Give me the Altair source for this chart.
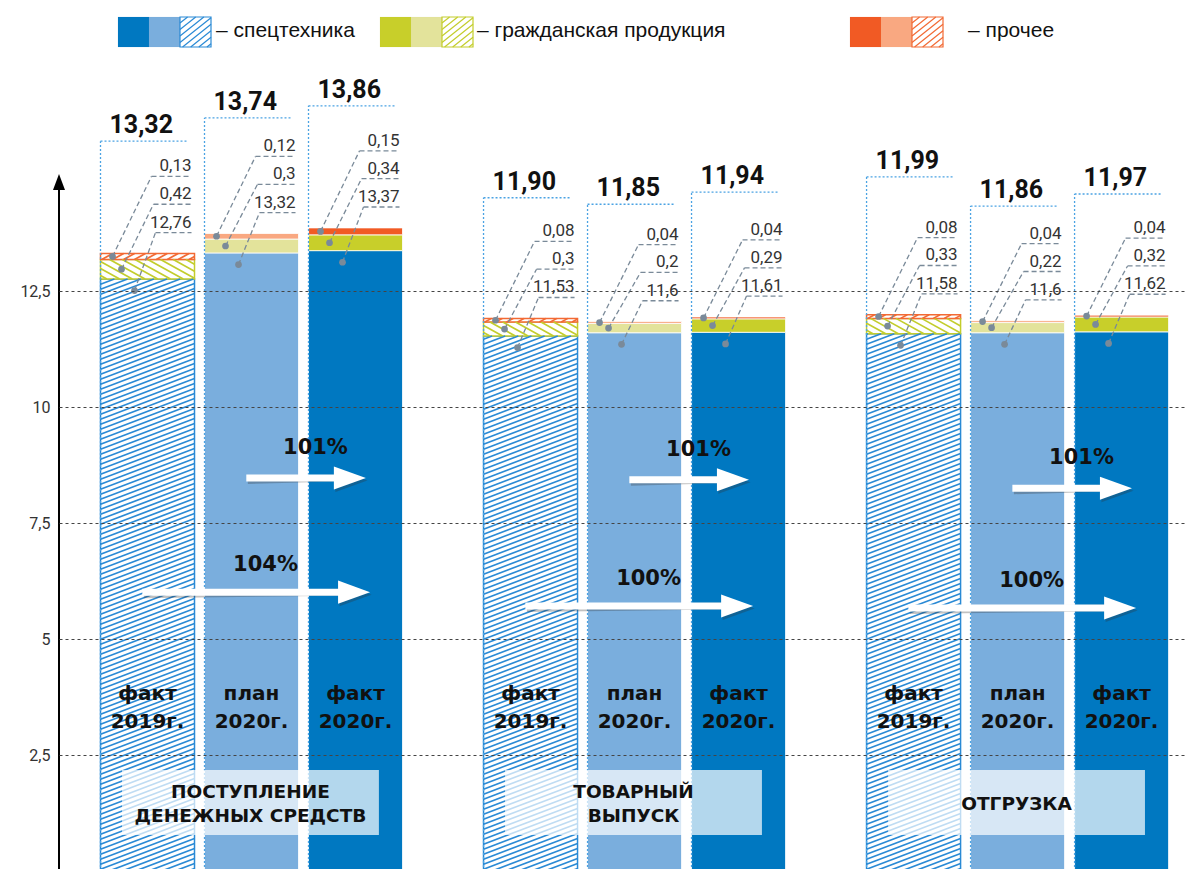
import altair as alt
import pandas as pd

# ---------------- data ----------------
group_names = [["ПОСТУПЛЕНИЕ", "ДЕНЕЖНЫХ СРЕДСТВ"], ["ТОВАРНЫЙ", "ВЫПУСК"], ["ОТГРУЗКА"]]
bar_line1 = ["факт", "план", "факт"]
bar_line2 = ["2019г.", "2020г.", "2020г."]
spec = [[12.76, 13.32, 13.37], [11.53, 11.6, 11.61], [11.58, 11.6, 11.62]]
civil = [[0.42, 0.3, 0.34], [0.3, 0.2, 0.29], [0.33, 0.22, 0.32]]
other = [[0.13, 0.12, 0.15], [0.08, 0.04, 0.04], [0.08, 0.04, 0.04]]
totals = [["13,32", "13,74", "13,86"], ["11,90", "11,85", "11,94"], ["11,99", "11,86", "11,97"]]
pct_vs_plan = ["101%", "101%", "101%"]
pct_vs_prev = ["104%", "100%", "100%"]
legend_labels = ["– спецтехника", "– гражданская продукция", "– прочее"]
y_ticks = [2.5, 5, 7.5, 10, 12.5]

# ---------------- layout / style ----------------
PXX, PXY = 104.0, 46.4          # px per x unit / y unit
W, H = 1127, 863
XMAX, YMAX = W / PXX, H / PXY
label_top = [[15.73, 16.23, 16.49], [14.51, 14.37, 14.63], [14.96, 14.33, 14.59]]
arrow_plan_y = [8.47, 8.43, 8.25]
arrow_prev_y = [6.01, 5.71, 5.67]

# colours: [hatched(2019), plan 2020, fact 2020]
COLS = {
    0: ["#2A8AD5", "#7AAEDD", "#0078C1"],   # спецтехника
    1: ["#C3CD2C", "#E3E39B", "#C8CF2A"],   # гражданская
    2: ["#F26A34", "#F9A881", "#F15A24"],   # прочее
}
LEADER = "#7A8A99"
OUTLINE = "#4BA3E3"
BOLD_FONT = "DejaVu Sans"
LEG_FONT = "Liberation Sans"
NUM_FONT = "Roboto"

HW = 47 / PXX  # half bar width


def cx(g, b):
    return 1.851 + g * 3.683 + (b - 1)


def hatch_lines(x0, x1, u0, u1, slope, step, rising):
    w = x1 - x0
    h = u1 - u0
    out = []
    if rising:
        c = -slope * w + step / 2
        while c < h:
            xa = max(0.0, -c / slope)
            xb = min(w, (h - c) / slope)
            if xb > xa:
                out.append((x0 + xa, u0 + c + slope * xa, x0 + xb, u0 + c + slope * xb))
            c += step
    else:
        c = step / 2
        while c < h + slope * w:
            xa = max(0.0, (c - h) / slope)
            xb = min(w, c / slope)
            if xb > xa:
                out.append((x0 + xa, u0 + c - slope * xa, x0 + xb, u0 + c - slope * xb))
            c += step
    return out


HATCH = {0: (0.38, 5.0, True), 1: (0.55, 7.0, False), 2: (0.55, 6.0, True)}

# ---------------- build tables ----------------
rects, hatch, outl, leader, dots, small, tot, bl = [], [], [], [], [], [], [], []
for g in range(3):
    for b in range(3):
        s, c, o = spec[g][b], civil[g][b], other[g][b]
        L, R = cx(g, b) - HW, cx(g, b) + HW
        segs = [(0, s), (s, s + c), (s + c, s + c + o)]
        for k, (y0, y1) in enumerate(segs):
            col = COLS[k][b]
            if b == 0:
                rects.append(dict(x=L, x2=R, y=y0, y2=y1, fill="white", stroke=col, sw=1.5))
                sl, st, ri = HATCH[k]
                for (xa, ua, xb, ub) in hatch_lines(L * PXX, R * PXX, y0 * PXY, y1 * PXY, sl, st, ri):
                    hatch.append(dict(x=xa / PXX, y=ua / PXY, x2=xb / PXX, y2=ub / PXY, c=col))
            else:
                rects.append(dict(x=L, x2=R, y=y0, y2=y1, fill=col, stroke="white", sw=0.8))
        top = s + c + o
        lt = label_top[g][b]
        outl.append(dict(x=L, x2=L, y=0, y2=lt))
        outl.append(dict(x=L, x2=R - 8 / PXX, y=lt, y2=lt))
        tot.append(dict(x=L + 9 / PXX, y=lt + 8 / PXY, t=totals[g][b]))
        rows = [
            (other[g][b], 1.66, 51, 12, s + c + o / 2),
            (civil[g][b], 1.06, 53, 21, s + c / 2),
            (spec[g][b], 0.45, 55, 34, s - 0.25),
        ]
        for (v, off, hx, dx, dy) in rows:
            ul = top + off
            hx0 = L + hx / PXX
            hx1 = R - 3 / PXX
            dxp = L + dx / PXX
            leader.append(dict(x=hx0, x2=hx1, y=ul, y2=ul))
            leader.append(dict(x=dxp, x2=hx0, y=dy, y2=ul))
            dots.append(dict(x=dxp, y=dy))
            small.append(dict(x=hx1, y=ul + 5 / PXY, t=f"{v:g}".replace(".", ",")))
        bl.append(dict(x=cx(g, b), y1=(871 - 694) / PXY, y2=(871 - 722) / PXY,
                       t1=bar_line1[b], t2=bar_line2[b]))

boxes, boxtxt = [], []
for g in range(3):
    c0 = cx(g, 1) - 0.01
    boxes.append(dict(x=c0 - 1.235, x2=c0 + 1.235, y=(871 - 770) / PXY, y2=(871 - 835) / PXY))
    n = len(group_names[g])
    for i, line in enumerate(group_names[g]):
        py = 803.5 + (i - (n - 1) / 2) * 24
        boxtxt.append(dict(x=c0, y=(871 - py) / PXY, t=line))

shafts, heads, ptxt = [], [], []
for g in range(3):
    for (b0, ay, pct, tip_off, toff) in [(1, arrow_plan_y[g], pct_vs_plan[g], 0.10, 30),
                                          (0, arrow_prev_y[g], pct_vs_prev[g], 0.14, 27)]:
        x0 = cx(g, b0) - 0.05
        tip = cx(g, 2) + tip_off
        shafts.append(dict(x=x0, x2=tip - 28 / PXX, y=ay, y2=ay))
        heads.append(dict(x=tip - 16 / PXX, y=ay))
        ptxt.append(dict(x=(x0 + tip) / 2 + 0.09, y=ay + toff / PXY, t=pct))

# legend (in data units derived from pixel layout)
leg_rects, leg_hatch, leg_txt = [], [], []
leg_start = [59, 321, 791]
leg_text_x = [157, 418, 909]
ly0, ly1 = 9, 39
for k in range(3):
    for j, b in enumerate([2, 1, 0]):
        xa = leg_start[k] + j * 31
        xb = xa + 31
        if b == 0:
            leg_rects.append(dict(x=xa / PXX, x2=xb / PXX, y=YMAX - ly0 / PXY, y2=YMAX - ly1 / PXY,
                                  fill="white", stroke=COLS[k][0], sw=1.2))
            for (p, ua, q, ub) in hatch_lines(xa, xb, -ly1, -ly0, 0.8, 6.5, True):
                leg_hatch.append(dict(x=p / PXX, y=YMAX + ua / PXY, x2=q / PXX, y2=YMAX + ub / PXY, c=COLS[k][0]))
        else:
            leg_rects.append(dict(x=xa / PXX, x2=xb / PXX, y=YMAX - ly0 / PXY, y2=YMAX - ly1 / PXY,
                                  fill=COLS[k][b], stroke=COLS[k][b], sw=0.1))
    leg_txt.append(dict(x=leg_text_x[k] / PXX, y=YMAX - 23 / PXY, t=legend_labels[k]))

# ---------------- encodings ----------------
xs = alt.Scale(domain=[0, XMAX], nice=False, zero=False)
ys = alt.Scale(domain=[0, YMAX], nice=False, zero=False)

yaxis = alt.Axis(values=y_ticks, labelExpr="replace(format(datum.value, '.1~f'), '.', ',')",
                 grid=True, gridDash=[3, 3], gridColor="#444", gridWidth=1, domain=False,
                 ticks=False, labelFont=NUM_FONT, labelFontSize=16, labelColor="#333",
                 labelPadding=9, title=None, zindex=1)


def X(f="x"):
    return alt.X(f, type="quantitative", scale=xs, axis=None)


def Y(f="y"):
    return alt.Y(f, type="quantitative", scale=ys, axis=yaxis)


df = pd.DataFrame
bars_l = alt.Chart(df(rects)).mark_rect().encode(
    x=X(), x2="x2:Q", y=Y(), y2="y2:Q",
    fill=alt.Fill("fill:N", scale=None), stroke=alt.Stroke("stroke:N", scale=None),
    strokeWidth=alt.StrokeWidth("sw:Q", scale=None))
hatch_l = alt.Chart(df(hatch)).mark_rule(strokeWidth=1.7).encode(
    x=X(), x2="x2:Q", y=Y(), y2="y2:Q", color=alt.Color("c:N", scale=None))
outl_l = alt.Chart(df(outl)).mark_rule(color=OUTLINE, strokeDash=[2, 2], strokeWidth=1.3).encode(
    x=X(), x2="x2:Q", y=Y(), y2="y2:Q")
lead_l = alt.Chart(df(leader)).mark_rule(color=LEADER, strokeDash=[5, 3], strokeWidth=1.3).encode(
    x=X(), x2="x2:Q", y=Y(), y2="y2:Q")
dots_l = alt.Chart(df(dots)).mark_circle(color=LEADER, size=45, opacity=1).encode(x=X(), y=Y())
small_l = alt.Chart(df(small)).mark_text(align="right", baseline="alphabetic", font=NUM_FONT,
                                          fontSize=17, color="#333").encode(x=X(), y=Y(), text="t:N")
tot_l = alt.Chart(df(tot)).mark_text(align="left", baseline="alphabetic", font=NUM_FONT,
                                      fontWeight="bold", fontSize=25, color="#111").encode(
    x=X(), y=Y(), text="t:N")
bl1_l = alt.Chart(df(bl)).mark_text(baseline="middle", font=BOLD_FONT, fontWeight="bold",
                                     fontSize=20, color="#111").encode(x=X(), y=Y("y1"), text="t1:N")
bl2_l = alt.Chart(df(bl)).mark_text(baseline="middle", font=BOLD_FONT, fontWeight="bold",
                                     fontSize=20, color="#111").encode(x=X(), y=Y("y2"), text="t2:N")
box_l = alt.Chart(df(boxes)).mark_rect(color="white", opacity=0.7).encode(
    x=X(), x2="x2:Q", y=Y(), y2="y2:Q")
boxt_l = alt.Chart(df(boxtxt)).mark_text(baseline="middle", font=BOLD_FONT, fontWeight="bold",
                                          fontSize=18.5, color="#111").encode(x=X(), y=Y(), text="t:N")

HEAD = "M-1,-0.72L1,0L-1,0.72Z"
shs_l = alt.Chart(df(shafts)).mark_rule(color="#333", opacity=0.3, strokeWidth=7, xOffset=1.5,
                                         yOffset=2.5).encode(x=X(), x2="x2:Q", y=Y(), y2="y2:Q")
hds_l = alt.Chart(df(heads)).mark_point(shape=HEAD, size=1024, filled=True, color="#333",
                                         opacity=0.3, xOffset=1.5, yOffset=2.5).encode(x=X(), y=Y())
sh_l = alt.Chart(df(shafts)).mark_rule(color="white", strokeWidth=7).encode(
    x=X(), x2="x2:Q", y=Y(), y2="y2:Q")
hd_l = alt.Chart(df(heads)).mark_point(shape=HEAD, size=1024, filled=True, color="white",
                                        opacity=1).encode(x=X(), y=Y())
pt_l = alt.Chart(df(ptxt)).mark_text(baseline="middle", font=BOLD_FONT, fontWeight="bold",
                                      fontSize=21, color="#111").encode(x=X(), y=Y(), text="t:N")

axis_line = alt.Chart(df([dict(x=0, y=0, y2=14.7)])).mark_rule(color="black", strokeWidth=2).encode(
    x=X(), y=Y(), y2="y2:Q")
axis_head = alt.Chart(df([dict(x=0, y=15.02 - 8 / PXY)])).mark_point(
    shape="M0,-1L0.75,1L-0.75,1Z", size=256, filled=True, color="black", opacity=1).encode(x=X(), y=Y())

legr_l = alt.Chart(df(leg_rects)).mark_rect().encode(
    x=X(), x2="x2:Q", y=Y(), y2="y2:Q",
    fill=alt.Fill("fill:N", scale=None), stroke=alt.Stroke("stroke:N", scale=None),
    strokeWidth=alt.StrokeWidth("sw:Q", scale=None))
legh_l = alt.Chart(df(leg_hatch)).mark_rule(strokeWidth=1.2).encode(
    x=X(), x2="x2:Q", y=Y(), y2="y2:Q", color=alt.Color("c:N", scale=None))
legt_l = alt.Chart(df(leg_txt)).mark_text(align="left", baseline="middle", font=LEG_FONT,
                                           fontSize=21, color="#111").encode(x=X(), y=Y(), text="t:N")

chart = alt.layer(
    bars_l, hatch_l, outl_l, lead_l, dots_l, small_l, tot_l,
    shs_l, hds_l, sh_l, hd_l, pt_l,
    bl1_l, bl2_l, box_l, boxt_l,
    axis_line, axis_head, legr_l, legh_l, legt_l,
).properties(
    width=W, height=H,
    padding={"left": 51, "top": 0, "right": 0, "bottom": 0},
    autosize=alt.AutoSizeParams(type="none"),
    background="white",
).configure_view(stroke=None)

chart.save("out.html", embed_options={"renderer": "svg", "actions": False})
